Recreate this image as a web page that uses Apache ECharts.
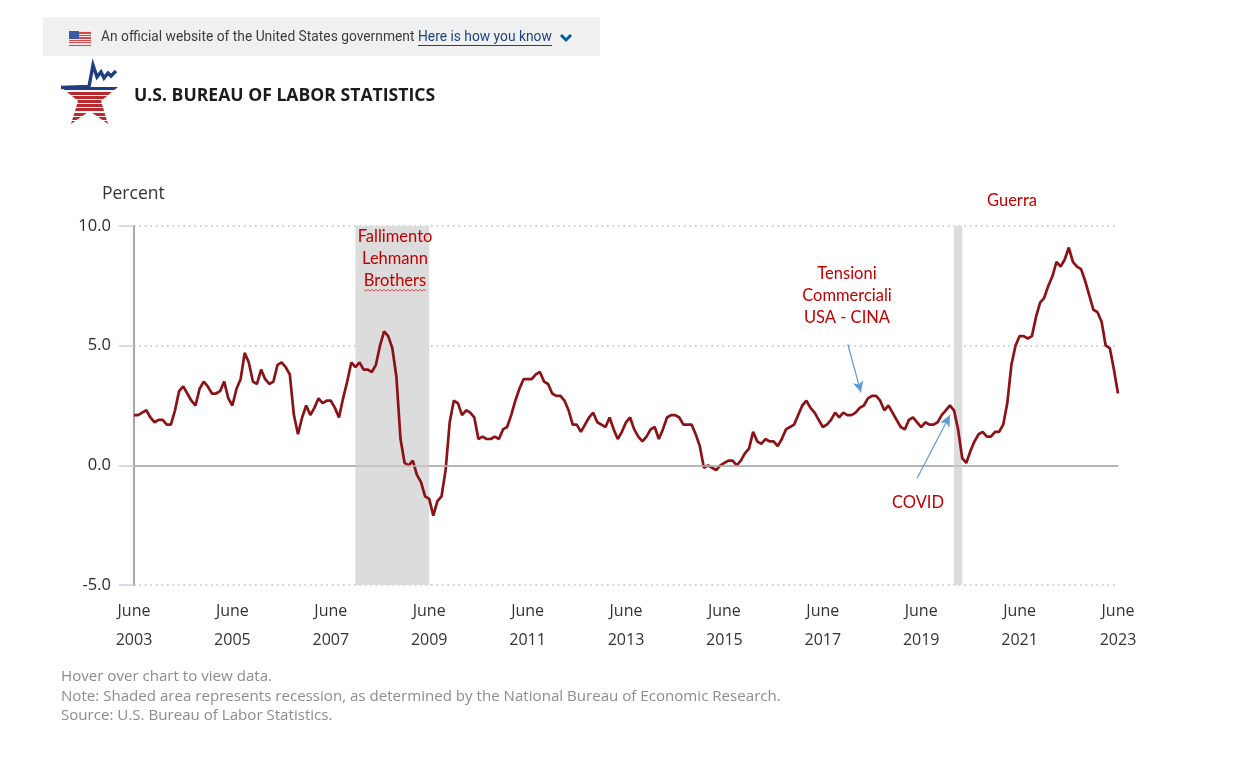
<!DOCTYPE html>
<html>
<head>
<meta charset="utf-8">
<script src="https://cdn.jsdelivr.net/npm/echarts@6/dist/echarts.min.js"></script>
<style>
html,body{margin:0;padding:0;background:#fff;}
#chart{width:1245px;height:775px;}
</style>
</head>
<body>
<div id="chart"></div>
<script>
// Monthly CPI-U 12-month percent change, June 2003 .. June 2023
const startYear = 2003, startMonth = 6;
const values2003 = [2.1, 2.1, 2.2, 2.3, 2.0, 1.8, 1.9]; // Jun-Dec
const values2004 = [1.9, 1.7, 1.7, 2.3, 3.1, 3.3, 3.0, 2.7, 2.5, 3.2, 3.5, 3.3];
const values2005 = [3.0, 3.0, 3.1, 3.5, 2.8, 2.5, 3.2, 3.6, 4.7, 4.3, 3.5, 3.4];
const values2006 = [4.0, 3.6, 3.4, 3.5, 4.2, 4.3, 4.1, 3.8, 2.1, 1.3, 2.0, 2.5];
const values2007 = [2.1, 2.4, 2.8, 2.6, 2.7, 2.7, 2.4, 2.0, 2.8, 3.5, 4.3, 4.1];
const values2008 = [4.3, 4.0, 4.0, 3.9, 4.2, 5.0, 5.6, 5.4, 4.9, 3.7, 1.1, 0.1];
const values2009 = [0.0, 0.2, -0.4, -0.7, -1.3, -1.4, -2.1, -1.5, -1.3, -0.2, 1.8, 2.7];
const values2010 = [2.6, 2.1, 2.3, 2.2, 2.0, 1.1, 1.2, 1.1, 1.1, 1.2, 1.1, 1.5];
const values2011 = [1.6, 2.1, 2.7, 3.2, 3.6, 3.6, 3.6, 3.8, 3.9, 3.5, 3.4, 3.0];
const values2012 = [2.9, 2.9, 2.7, 2.3, 1.7, 1.7, 1.4, 1.7, 2.0, 2.2, 1.8, 1.7];
const values2013 = [1.6, 2.0, 1.5, 1.1, 1.4, 1.8, 2.0, 1.5, 1.2, 1.0, 1.2, 1.5];
const values2014 = [1.6, 1.1, 1.5, 2.0, 2.1, 2.1, 2.0, 1.7, 1.7, 1.7, 1.3, 0.8];
const values2015 = [-0.1, 0.0, -0.1, -0.2, 0.0, 0.1, 0.2, 0.2, 0.0, 0.2, 0.5, 0.7];
const values2016 = [1.4, 1.0, 0.9, 1.1, 1.0, 1.0, 0.8, 1.1, 1.5, 1.6, 1.7, 2.1];
const values2017 = [2.5, 2.7, 2.4, 2.2, 1.9, 1.6, 1.7, 1.9, 2.2, 2.0, 2.2, 2.1];
const values2018 = [2.1, 2.2, 2.4, 2.5, 2.8, 2.9, 2.9, 2.7, 2.3, 2.5, 2.2, 1.9];
const values2019 = [1.6, 1.5, 1.9, 2.0, 1.8, 1.6, 1.8, 1.7, 1.7, 1.8, 2.1, 2.3];
const values2020 = [2.5, 2.3, 1.5, 0.3, 0.1, 0.6, 1.0, 1.3, 1.4, 1.2, 1.2, 1.4];
const values2021 = [1.4, 1.7, 2.6, 4.2, 5.0, 5.4, 5.4, 5.3, 5.4, 6.2, 6.8, 7.0];
const values2022 = [7.5, 7.9, 8.5, 8.3, 8.6, 9.1, 8.5, 8.3, 8.2, 7.7, 7.1, 6.5];
const values2023 = [6.4, 6.0, 5.0, 4.9, 4.0, 3.0]; // Jan-Jun

const tickLabels = ['June\n2003','June\n2005','June\n2007','June\n2009','June\n2011','June\n2013',
                    'June\n2015','June\n2017','June\n2019','June\n2021','June\n2023'];
const yTicks = [-5, 0, 5, 10];

// Recessions (month index from June 2003)
const recessions = [[54, 72], [200, 202]]; // Dec 2007 - Jun 2009, Feb 2020 - Apr 2020

// Annotation arrows: [from month index, from value] -> [to month index, to value]
const arrows = [
  [[174.1, 5.06], [177.3, 3.05]],   // Tensioni Commerciali
  [[191.0, -0.54], [199.0, 2.09]],  // COVID
  [[215.4, 10.07], [223.4, 8.07]]   // Guerra
];
const annotationTexts = ['Fallimento\nLehmann\nBrothers', 'Tensioni\nCommerciali\nUSA - CINA', 'COVID', 'Guerra'];

const footerLines = [
  'Hover over chart to view data.',
  'Note: Shaded area represents recession, as determined by the National Bureau of Economic Research.',
  'Source: U.S. Bureau of Labor Statistics.'
];

const values = [].concat(values2003, values2004, values2005, values2006, values2007, values2008,
  values2009, values2010, values2011, values2012, values2013, values2014, values2015, values2016,
  values2017, values2018, values2019, values2020, values2021, values2022, values2023);
const months = values.map((v, i) => {
  const m = startMonth - 1 + i;
  return (startYear + Math.floor(m / 12)) + '-' + String(m % 12 + 1).padStart(2, '0');
});

const chart = echarts.init(document.getElementById('chart'), null, {renderer: 'canvas'});

function stripeStops(top, topColor, n, wideColor, thinColor, thinFrac) {
  const stops = [{offset: 0, color: topColor}, {offset: top, color: topColor}];
  const h = (1 - top) / n;
  let o = top;
  for (let k = 0; k < n; k++) {
    const thin = h * thinFrac;
    stops.push({offset: o, color: thinColor});
    stops.push({offset: o + thin, color: thinColor});
    stops.push({offset: o + thin, color: wideColor});
    stops.push({offset: o + h, color: wideColor});
    o += h;
  }
  return stops;
}

const redText = '#c00000';
const annFont = 'Lato, "Open Sans", sans-serif';

const graphics = [
  // gov banner
  {type: 'rect', shape: {x: 43, y: 17, width: 557, height: 39}, style: {fill: '#f0f0f0'}},
  {type: 'rect', shape: {x: 69, y: 31, width: 22, height: 15},
   style: {fill: new echarts.graphic.LinearGradient(0, 0, 0, 1, stripeStops(0, '#fff', 6, '#d04848', '#f7e6e6', 0.45))}},
  {type: 'rect', shape: {x: 69, y: 31, width: 10, height: 8}, style: {fill: '#3b5ba8'}},
  {type: 'text', style: {x: 101, y: 38, text: 'An official website of the United States government',
    fill: '#3d3d3d', font: '13.8px "Source Sans Pro", Roboto, sans-serif', verticalAlign: 'middle'}},
  {type: 'text', style: {x: 418, y: 38, text: 'Here is how you know',
    fill: '#1a4480', font: '13.8px "Source Sans Pro", Roboto, sans-serif', verticalAlign: 'middle'}},
  {type: 'line', shape: {x1: 418, y1: 45.5, x2: 552, y2: 45.5}, style: {stroke: '#1a4480', lineWidth: 1}},
  {type: 'polyline', shape: {points: [[561, 35], [566, 40], [571, 35]]},
   style: {stroke: '#005ea2', lineWidth: 3, fill: null}},
  // logo star (top spike replaced by a chart line)
  {type: 'polygon', shape: {points: [[61, 87], [118, 87], [101, 101], [108, 124], [89.5, 111], [71, 124], [78, 101]]},
   style: {fill: new echarts.graphic.LinearGradient(0, 0, 0, 1, [{offset: 0, color: '#213f80'}, {offset: 0.09, color: '#213f80'}].concat(stripeStops(0.09, '#213f80', 8, '#b72a30', '#f4f4f4', 0.3).slice(2)))}},
  {type: 'polyline', shape: {points: [[61, 87.5], [89, 86.5], [93, 65], [97, 77], [101, 72], [104, 78], [108, 73], [111, 76], [116, 71]]},
   style: {stroke: '#213f80', lineWidth: 3.4, fill: null, lineJoin: 'miter'}},
  {type: 'text', style: {x: 134, y: 96, text: 'U.S. BUREAU OF LABOR STATISTICS',
    fill: '#1b1b1b', font: 'bold 17.6px "Source Sans Pro", "Open Sans", sans-serif', verticalAlign: 'middle'}},
  // axis name
  {type: 'text', style: {x: 102, y: 194, text: 'Percent', fill: '#333',
    font: '17.5px "Open Sans", sans-serif', verticalAlign: 'middle'}},
  // annotations
  {type: 'text', z: 10, style: {x: 395, y: 226, text: annotationTexts[0], fill: redText, align: 'center',
    font: '16.5px ' + annFont, lineHeight: 22}},
  {type: 'polyline', z: 10, shape: {points: (function(){const p=[];for(let x=364;x<=427;x+=2){p.push([x, 290 + ((x/2)%2 ? 1 : -0.5)]);}return p;})()},
   style: {stroke: '#d03030', lineWidth: 0.8, fill: null}},
  {type: 'text', z: 10, style: {x: 847, y: 263, text: annotationTexts[1], fill: redText, align: 'center',
    font: '16.5px ' + annFont, lineHeight: 22}},
  {type: 'text', z: 10, style: {x: 918, y: 503, text: annotationTexts[2], fill: redText, align: 'center',
    verticalAlign: 'middle', font: '16.5px ' + annFont}},
  {type: 'text', z: 10, style: {x: 1012, y: 201, text: annotationTexts[3], fill: redText, align: 'center',
    verticalAlign: 'middle', font: '16.5px ' + annFont}}
];
footerLines.forEach((t, k) => {
  graphics.push({type: 'text', style: {x: 61, y: 677 + k * 19.5, text: t, fill: '#8c8c8c',
    font: '15.1px "Open Sans", sans-serif', verticalAlign: 'middle'}});
});

const option = {
  animation: false,
  backgroundColor: '#ffffff',
  grid: {left: 134, right: 127, top: 226, bottom: 190, containLabel: false},
  xAxis: {
    type: 'value', min: 0, max: 240, interval: 24,
    axisLine: {show: true, lineStyle: {color: '#8a8a8a', width: 1.5}},
    axisTick: {show: false},
    splitLine: {show: false},
    axisLabel: {
      formatter: v => tickLabels[Math.round(v / 24)],
      color: '#333', fontSize: 16, lineHeight: 29, margin: 12,
      fontFamily: '"Open Sans", sans-serif'
    }
  },
  yAxis: {
    type: 'value', min: yTicks[0], max: yTicks[yTicks.length - 1], interval: 5,
    axisLine: {show: true, lineStyle: {color: '#8a8a8a', width: 1.5}},
    axisTick: {show: true, length: 15, lineStyle: {color: '#c3d1e6', width: 1.5}},
    splitLine: {show: true, lineStyle: {color: '#bdbdbd', type: [1.5, 4], width: 1.5}},
    axisLabel: {
      formatter: v => v.toFixed(1), color: '#2a2a2a', fontSize: 16.5, margin: 23,
      fontFamily: '"Open Sans", sans-serif'
    }
  },
  series: [
    {
      type: 'line', z: 1, data: [], silent: true,
      markArea: {
        silent: true,
        itemStyle: {color: '#dcdcdc', opacity: 1},
        data: recessions.map(r => [{xAxis: r[0]}, {xAxis: r[1]}])
      },
      markLine: {
        silent: true, symbol: 'none', label: {show: false},
        lineStyle: {color: '#bdbdbd', type: 'solid', width: 1.5},
        data: [{yAxis: 0}]
      }
    },
    {
      name: 'CPI', type: 'line', z: 3,
      data: values.map((v, i) => [i, v]),
      showSymbol: false, smooth: false,
      lineStyle: {color: '#8b1216', width: 2.7},
      itemStyle: {color: '#8b1216'}
    },
    {
      type: 'line', z: 5, data: [], silent: true,
      markLine: {
        silent: true, symbol: ['none', 'arrow'], symbolSize: [8, 11], label: {show: false},
        lineStyle: {color: '#5b9bd5', type: 'solid', width: 1.2},
        data: arrows.map(a => [{coord: a[0]}, {coord: a[1]}])
      }
    }
  ],
  graphic: graphics
};
chart.setOption(option);
</script>
</body>
</html>
